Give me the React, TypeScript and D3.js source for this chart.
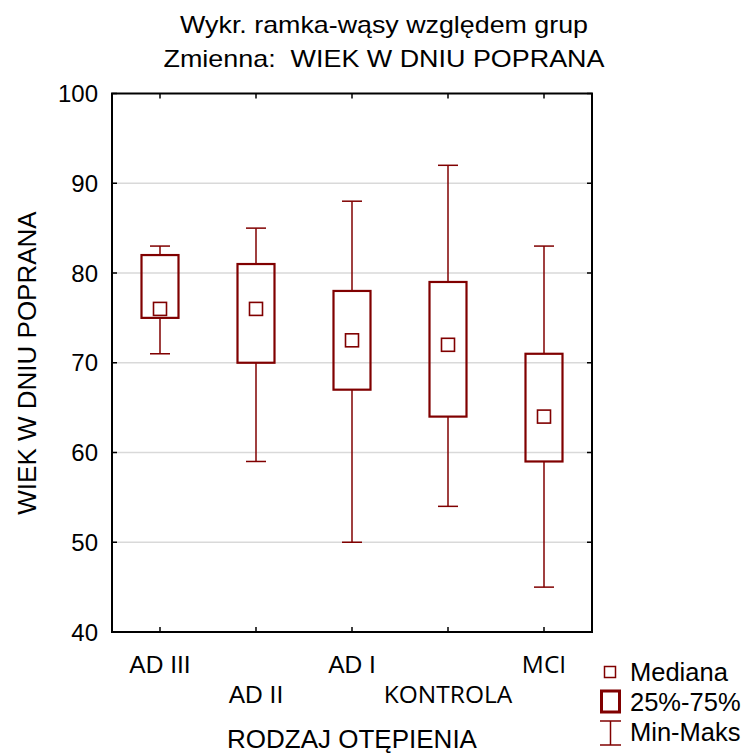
import React from "react";
import * as d3 from "d3";

// chart values
const groups = ["AD III", "AD II", "AD I", "KONTROLA", "MCI"];
const mins = [71, 59, 50, 54, 45];
const q1s = [75, 70, 67, 64, 59];
const medians = [76, 76, 72.5, 72, 64];
const q3s = [82, 81, 78, 79, 71];
const maxs = [83, 85, 88, 92, 83];
const yTicks = [40, 50, 60, 70, 80, 90, 100];

const W = 748;
const H = 753;
const margin = { top: 93.5, right: 156, bottom: 121, left: 112 };
const RED = "#800000";
const SANS = "'Liberation Sans', Arial, sans-serif";
const NARROW = "'Liberation Sans Narrow', 'Liberation Sans', Arial, sans-serif";
const OPEN = "'Open Sans', 'Liberation Sans', sans-serif";

export default function App() {
  const x = d3
    .scaleBand<string>()
    .domain(groups)
    .range([margin.left, W - margin.right]);
  const y = d3
    .scaleLinear()
    .domain([40, 100])
    .range([H - margin.bottom, margin.top]);

  const boxW = 37;
  const capW = 20;
  const medS = 13;
  const x0 = margin.left;
  const x1 = W - margin.right;
  const y0 = y(40);
  const y1 = y(100);

  const boxes = groups.map((g, i) => ({
    g,
    cx: (x(g) as number) + x.bandwidth() / 2,
    min: mins[i],
    q1: q1s[i],
    med: medians[i],
    q3: q3s[i],
    max: maxs[i],
  }));

  return (
    <svg
      width={W}
      height={H}
      style={{ position: "absolute", left: 0, top: 0, background: "#fff" }}
    >
      {/* title */}
      <text
        x={384}
        y={33}
        textAnchor="middle"
        fontFamily={NARROW}
        fontSize={24}
        textLength={408}
        lengthAdjust="spacingAndGlyphs"
      >
        Wykr. ramka-wąsy względem grup
      </text>
      <text
        x={384}
        y={67}
        textAnchor="middle"
        fontFamily={NARROW}
        fontSize={24}
        textLength={441}
        lengthAdjust="spacingAndGlyphs"
        style={{ whiteSpace: "pre" }}
      >
        {"Zmienna:  WIEK W DNIU POPRANA"}
      </text>

      {/* grid */}
      {yTicks
        .filter((t) => t > 40 && t < 100)
        .map((t) => (
          <line
            key={"g" + t}
            x1={x0}
            x2={x1}
            y1={y(t)}
            y2={y(t)}
            stroke="#d9d9d9"
            strokeWidth={1.5}
          />
        ))}

      {/* y ticks + labels */}
      {yTicks.map((t) => (
        <g key={"y" + t}>
          <line x1={x0} x2={x0 + 5} y1={y(t)} y2={y(t)} stroke="#000" strokeWidth={1.5} />
          <line x1={x1} x2={x1 - 5} y1={y(t)} y2={y(t)} stroke="#000" strokeWidth={1.5} />
          <text
            x={98}
            y={y(t) + 8.5}
            textAnchor="end"
            fontFamily={SANS}
            fontSize={24}
          >
            {t}
          </text>
        </g>
      ))}

      {/* x ticks + labels */}
      {boxes.map((b, i) => (
        <g key={"x" + b.g}>
          <line x1={b.cx} x2={b.cx} y1={y1} y2={y1 + 5} stroke="#000" strokeWidth={1.5} />
          <line x1={b.cx} x2={b.cx} y1={y0} y2={y0 - 5} stroke="#000" strokeWidth={1.5} />
          <text
            x={b.cx}
            y={i % 2 === 0 ? 673 : 703}
            textAnchor="middle"
            fontFamily={i >= 3 ? OPEN : SANS}
            fontSize={24.5}
          >
            {b.g}
          </text>
        </g>
      ))}

      {/* frame */}
      <rect
        x={x0}
        y={y1}
        width={x1 - x0}
        height={y0 - y1}
        fill="none"
        stroke="#000"
        strokeWidth={2}
      />

      {/* boxes */}
      {boxes.map((b) => (
        <g key={"b" + b.g}>
          <line x1={b.cx} x2={b.cx} y1={y(b.max)} y2={y(b.q3)} stroke={RED} strokeWidth={1.5} />
          <line x1={b.cx} x2={b.cx} y1={y(b.q1)} y2={y(b.min)} stroke={RED} strokeWidth={1.5} />
          <line
            x1={b.cx - capW / 2}
            x2={b.cx + capW / 2}
            y1={y(b.max)}
            y2={y(b.max)}
            stroke={RED}
            strokeWidth={1.5}
          />
          <line
            x1={b.cx - capW / 2}
            x2={b.cx + capW / 2}
            y1={y(b.min)}
            y2={y(b.min)}
            stroke={RED}
            strokeWidth={1.5}
          />
          <rect
            x={b.cx - boxW / 2}
            y={y(b.q3)}
            width={boxW}
            height={y(b.q1) - y(b.q3)}
            fill="none"
            stroke={RED}
            strokeWidth={2.2}
          />
          <rect
            x={b.cx - medS / 2}
            y={y(b.med) - medS / 2}
            width={medS}
            height={medS}
            fill="none"
            stroke={RED}
            strokeWidth={1.6}
          />
        </g>
      ))}

      {/* axis titles */}
      <text
        x={x(groups[2])! + x.bandwidth() / 2}
        y={748}
        textAnchor="middle"
        fontFamily={SANS}
        fontSize={26}
      >
        RODZAJ OTĘPIENIA
      </text>
      <text
        transform={`translate(36, 363) rotate(-90)`}
        textAnchor="middle"
        fontFamily={SANS}
        fontSize={26}
      >
        WIEK W DNIU POPRANA
      </text>

      {/* legend */}
      <rect x={604.5} y={666.5} width={11} height={11} fill="none" stroke={RED} strokeWidth={1.5} />
      <rect x={601.5} y={691} width={18} height={21} fill="none" stroke={RED} strokeWidth={3} />
      <line x1={610.5} x2={610.5} y1={721} y2={745} stroke={RED} strokeWidth={1.5} />
      <line x1={600} x2={621} y1={721} y2={721} stroke={RED} strokeWidth={1.5} />
      <line x1={600} x2={621} y1={745} y2={745} stroke={RED} strokeWidth={1.5} />
      <text x={630} y={681} fontFamily={SANS} fontSize={25.5}>
        Mediana
      </text>
      <text x={630} y={711} fontFamily={SANS} fontSize={25.5}>
        25%-75%
      </text>
      <text x={630} y={741} fontFamily={SANS} fontSize={25.5}>
        Min-Maks
      </text>
    </svg>
  );
}
